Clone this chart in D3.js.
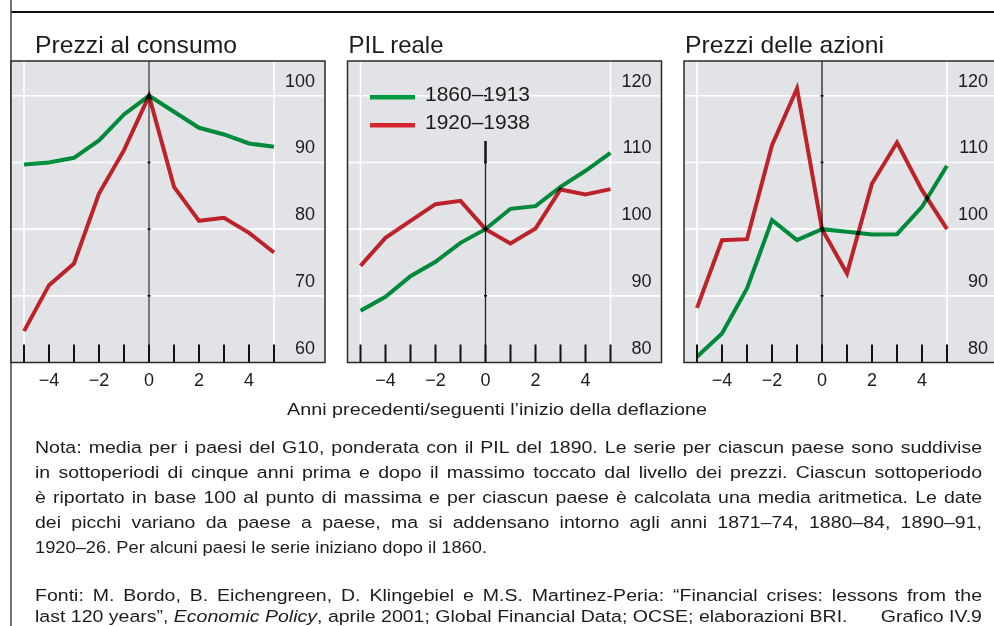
<!DOCTYPE html>
<html>
<head>
<meta charset="utf-8">
<script src="https://cdn.jsdelivr.net/npm/d3@7"></script>
<style>
body { margin: 0; background: #fff; }
svg { display: block; }
text { font-family: "Liberation Sans", Arial, Helvetica, sans-serif; fill: #1c1c1c; }
</style>
</head>
<body>
<div id="chart"></div>
<script>
//
// Data (index 100 at the peak of the price level)
//
var years = [-5, -4, -3, -2, -1, 0, 1, 2, 3, 4, 5];
var xTicks = [-4, -2, 0, 2, 4];
var seriesNames = ["1860–1913", "1920–1938"];
var panelTitles = ["Prezzi al consumo", "PIL reale", "Prezzi delle azioni"];

var cpi1860 = [89.7, 90.0, 90.7, 93.3, 97.2, 100, 97.6, 95.2, 94.2, 92.85, 92.35];
var cpi1920 = [64.7, 71.6, 74.85, 85.35, 91.85, 100, 86.35, 81.25, 81.7, 79.45, 76.5];
var gdp1860 = [87.75, 89.85, 92.95, 95.1, 97.95, 100, 103.05, 103.45, 106.35, 108.75, 111.45];
var gdp1920 = [94.5, 98.7, 101.25, 103.75, 104.25, 100, 97.85, 100.1, 105.95, 105.2, 106];
var stock1860 = [80.85, 84.35, 91.1, 101.35, 98.35, 100, 99.6, 99.2, 99.25, 103.35, 109.5];
var stock1920 = [88.2, 98.35, 98.5, 112.6, 121.1, 100, 93.35, 106.85, 113, 105.85, 100];

var yTicksCpi = [60, 70, 80, 90, 100];
var yTicksOther = [80, 90, 100, 110, 120];

var axisTitle = "Anni precedenti/seguenti l’inizio della deflazione";
var noteLines = [
  "Nota: media per i paesi del G10, ponderata con il PIL del 1890. Le serie per ciascun paese sono suddivise",
  "in sottoperiodi di cinque anni prima e dopo il massimo toccato dal livello dei prezzi. Ciascun sottoperiodo",
  "è riportato in base 100 al punto di massima e per ciascun paese è calcolata una media aritmetica. Le date",
  "dei picchi variano da paese a paese, ma si addensano intorno agli anni 1871–74, 1880–84, 1890–91,",
  "1920–26. Per alcuni paesi le serie iniziano dopo il 1860."
];
var sourceLine1 = "Fonti: M. Bordo, B. Eichengreen, D. Klingebiel e M.S. Martinez-Peria: “Financial crises: lessons from the";
var sourceLine2 = ["last 120 years”, ", "Economic Policy", ", aprile 2001; Global Financial Data; OCSE; elaborazioni BRI."];
var chartId = "Grafico IV.9";

//
// Layout
//
var W = 994, H = 626;
var green = "#009a40", red = "#d4262e", panelBg = "#e2e3e7";
var panelLefts = [11, 347.5, 684];
var panelW = 314;
var plotTop = 61, plotBottom = 362.5;
var textLeft = 35, textRight = 982;

var svg = d3.select("#chart").append("svg")
  .attr("width", W)
  .attr("height", H);

// frame lines of the page
svg.append("line")
  .attr("x1", 11).attr("x2", W).attr("y1", 12).attr("y2", 12)
  .style("stroke", "#111").style("stroke-width", 2);
svg.append("line")
  .attr("x1", 11).attr("x2", 11).attr("y1", 0).attr("y2", H)
  .style("stroke", "#444").style("stroke-width", 1.5);

var panels = [
  { title: panelTitles[0], ticks: yTicksCpi, a: cpi1860, b: cpi1920, zeroTop: plotTop, zeroColor: "#6d6d6d", zeroW: 1.8 },
  { title: panelTitles[1], ticks: yTicksOther, a: gdp1860, b: gdp1920, zeroTop: 141, zeroColor: "#222", zeroW: 1.3, legend: true },
  { title: panelTitles[2], ticks: yTicksOther, a: stock1860, b: stock1920, zeroTop: plotTop, zeroColor: "#222", zeroW: 1.3 }
];

panels.forEach(function(p, i) {
  var left = panelLefts[i];
  var g = svg.append("g");

  var x = d3.scaleLinear().domain([-5, 5]).range([left + 13, left + 263]);
  var lo = p.ticks[0];
  var y = d3.scaleLinear().domain([lo, lo + 40]).range([plotBottom, 95.8]);

  // title
  g.append("text")
    .attr("x", i === 0 ? textLeft : left + 1)
    .attr("y", 53)
    .style("font-size", "24px")
    .text(p.title)
    .call(fitText, [202, 95, 199][i]);

  // background
  g.append("rect")
    .attr("x", left).attr("y", plotTop)
    .attr("width", panelW).attr("height", plotBottom - plotTop)
    .style("fill", panelBg);

  // white grid
  g.append("g").selectAll("line")
    .data(p.ticks.slice(1))
    .enter().append("line")
    .attr("x1", left).attr("x2", left + panelW)
    .attr("y1", function(d) { return y(d); })
    .attr("y2", function(d) { return y(d); })
    .style("stroke", "#fff").style("stroke-width", 1.6);
  g.append("g").selectAll("line")
    .data([-5, 5])
    .enter().append("line")
    .attr("x1", function(d) { return x(d); })
    .attr("x2", function(d) { return x(d); })
    .attr("y1", plotTop).attr("y2", plotBottom)
    .style("stroke", "#fff").style("stroke-width", 1.6);

  // zero line
  g.append("line")
    .attr("x1", x(0)).attr("x2", x(0))
    .attr("y1", p.zeroTop).attr("y2", plotBottom)
    .style("stroke", p.zeroColor).style("stroke-width", p.zeroW);
  if (p.legend) {
    g.append("line")
      .attr("x1", x(0)).attr("x2", x(0))
      .attr("y1", p.zeroTop).attr("y2", y(110))
      .style("stroke", "#111").style("stroke-width", 2.4);
  }
  g.append("g").selectAll("line")
    .data(p.ticks.slice(1))
    .enter().append("line")
    .attr("x1", x(0) - 1.5).attr("x2", x(0) + 1.5)
    .attr("y1", function(d) { return y(d); })
    .attr("y2", function(d) { return y(d); })
    .style("stroke", "#111").style("stroke-width", 1.6);

  // bottom ticks
  g.append("g").selectAll("line")
    .data(years)
    .enter().append("line")
    .attr("x1", function(d) { return x(d); })
    .attr("x2", function(d) { return x(d); })
    .attr("y1", plotBottom).attr("y2", plotBottom - 18)
    .style("stroke", "#111").style("stroke-width", 2);

  // frame of the panel
  g.append("rect")
    .attr("x", left).attr("y", plotTop)
    .attr("width", panelW).attr("height", plotBottom - plotTop)
    .style("fill", "none").style("stroke", "#2a2a2a").style("stroke-width", 1.5);

  // y labels on the right
  g.append("g").selectAll("text")
    .data(p.ticks)
    .enter().append("text")
    .attr("x", x(5) + 41)
    .attr("y", function(d) { return y(d) - 9; })
    .attr("text-anchor", "end")
    .style("font-size", "18px")
    .text(function(d) { return d; });

  // x labels
  g.append("g").selectAll("text")
    .data(xTicks)
    .enter().append("text")
    .attr("x", function(d) { return x(d); })
    .attr("y", 386)
    .attr("text-anchor", "middle")
    .style("font-size", "18px")
    .text(function(d) { return d < 0 ? "−" + Math.abs(d) : d; });

  // lines
  var line = d3.line()
    .x(function(d, j) { return x(years[j]); })
    .y(function(d) { return y(d); });

  [[p.b, red], [p.a, green]].forEach(function(s) {
    g.append("path")
      .attr("d", line(s[0]))
      .attr("fill", "none")
      .style("stroke", s[1])
      .style("stroke-width", 4)
      .style("stroke-linejoin", "miter")
      .style("mix-blend-mode", "multiply");
  });

  // legend
  if (p.legend) {
    var leg = g.append("g");
    [[green, 97.3, 101], [red, 125.3, 128.5]].forEach(function(l, k) {
      leg.append("line")
        .attr("x1", 370).attr("x2", 415)
        .attr("y1", l[1]).attr("y2", l[1])
        .style("stroke", l[0]).style("stroke-width", 4.5);
      leg.append("text")
        .attr("x", 425).attr("y", l[2])
        .style("font-size", "21px")
        .text(seriesNames[k])
        .call(fitText, 105);
    });
  }
});

//
// Texts under the panels
//
svg.append("text")
  .attr("x", 497).attr("y", 415)
  .attr("text-anchor", "middle")
  .style("font-size", "17px")
  .text(axisTitle)
  .call(fitText, 420);

// notes: condensed by a common factor (taken from the last source line),
// then justified with word-spacing
var notes = svg.append("g");
var s2 = notes.append("text")
  .attr("x", 0).attr("y", 622)
  .style("font-size", "17px");
sourceLine2.forEach(function(t, i) {
  s2.append("tspan")
    .style("font-style", i === 1 ? "italic" : "normal")
    .text(t);
});
var k = 813 / s2.node().getComputedTextLength();
notes.attr("transform", "translate(" + textLeft + ",0) scale(" + k + ",1)");
var fullW = (textRight - textLeft) / k;

var noteY = [453, 478, 503, 528, 553];
noteLines.forEach(function(t, i) {
  var tx = notes.append("text")
    .attr("x", 0).attr("y", noteY[i])
    .style("font-size", "17px")
    .text(t);
  if (i < noteLines.length - 1) justify(tx, fullW);
  else fitText(tx, 452 / k);
});

var s1 = notes.append("text")
  .attr("x", 0).attr("y", 601)
  .style("font-size", "17px")
  .text(sourceLine1);
justify(s1, fullW);

notes.append("text")
  .attr("x", fullW).attr("y", 622)
  .attr("text-anchor", "end")
  .style("font-size", "17px")
  .text(chartId);

function fitText(sel, w) {
  sel.attr("textLength", w).attr("lengthAdjust", "spacingAndGlyphs");
}

function justify(sel, w) {
  var node = sel.node();
  var natural = node.getComputedTextLength();
  var gaps = node.textContent.split(" ").length - 1;
  if (gaps > 0) sel.style("word-spacing", ((w - natural) / gaps) + "px");
}
</script>
</body>
</html>
